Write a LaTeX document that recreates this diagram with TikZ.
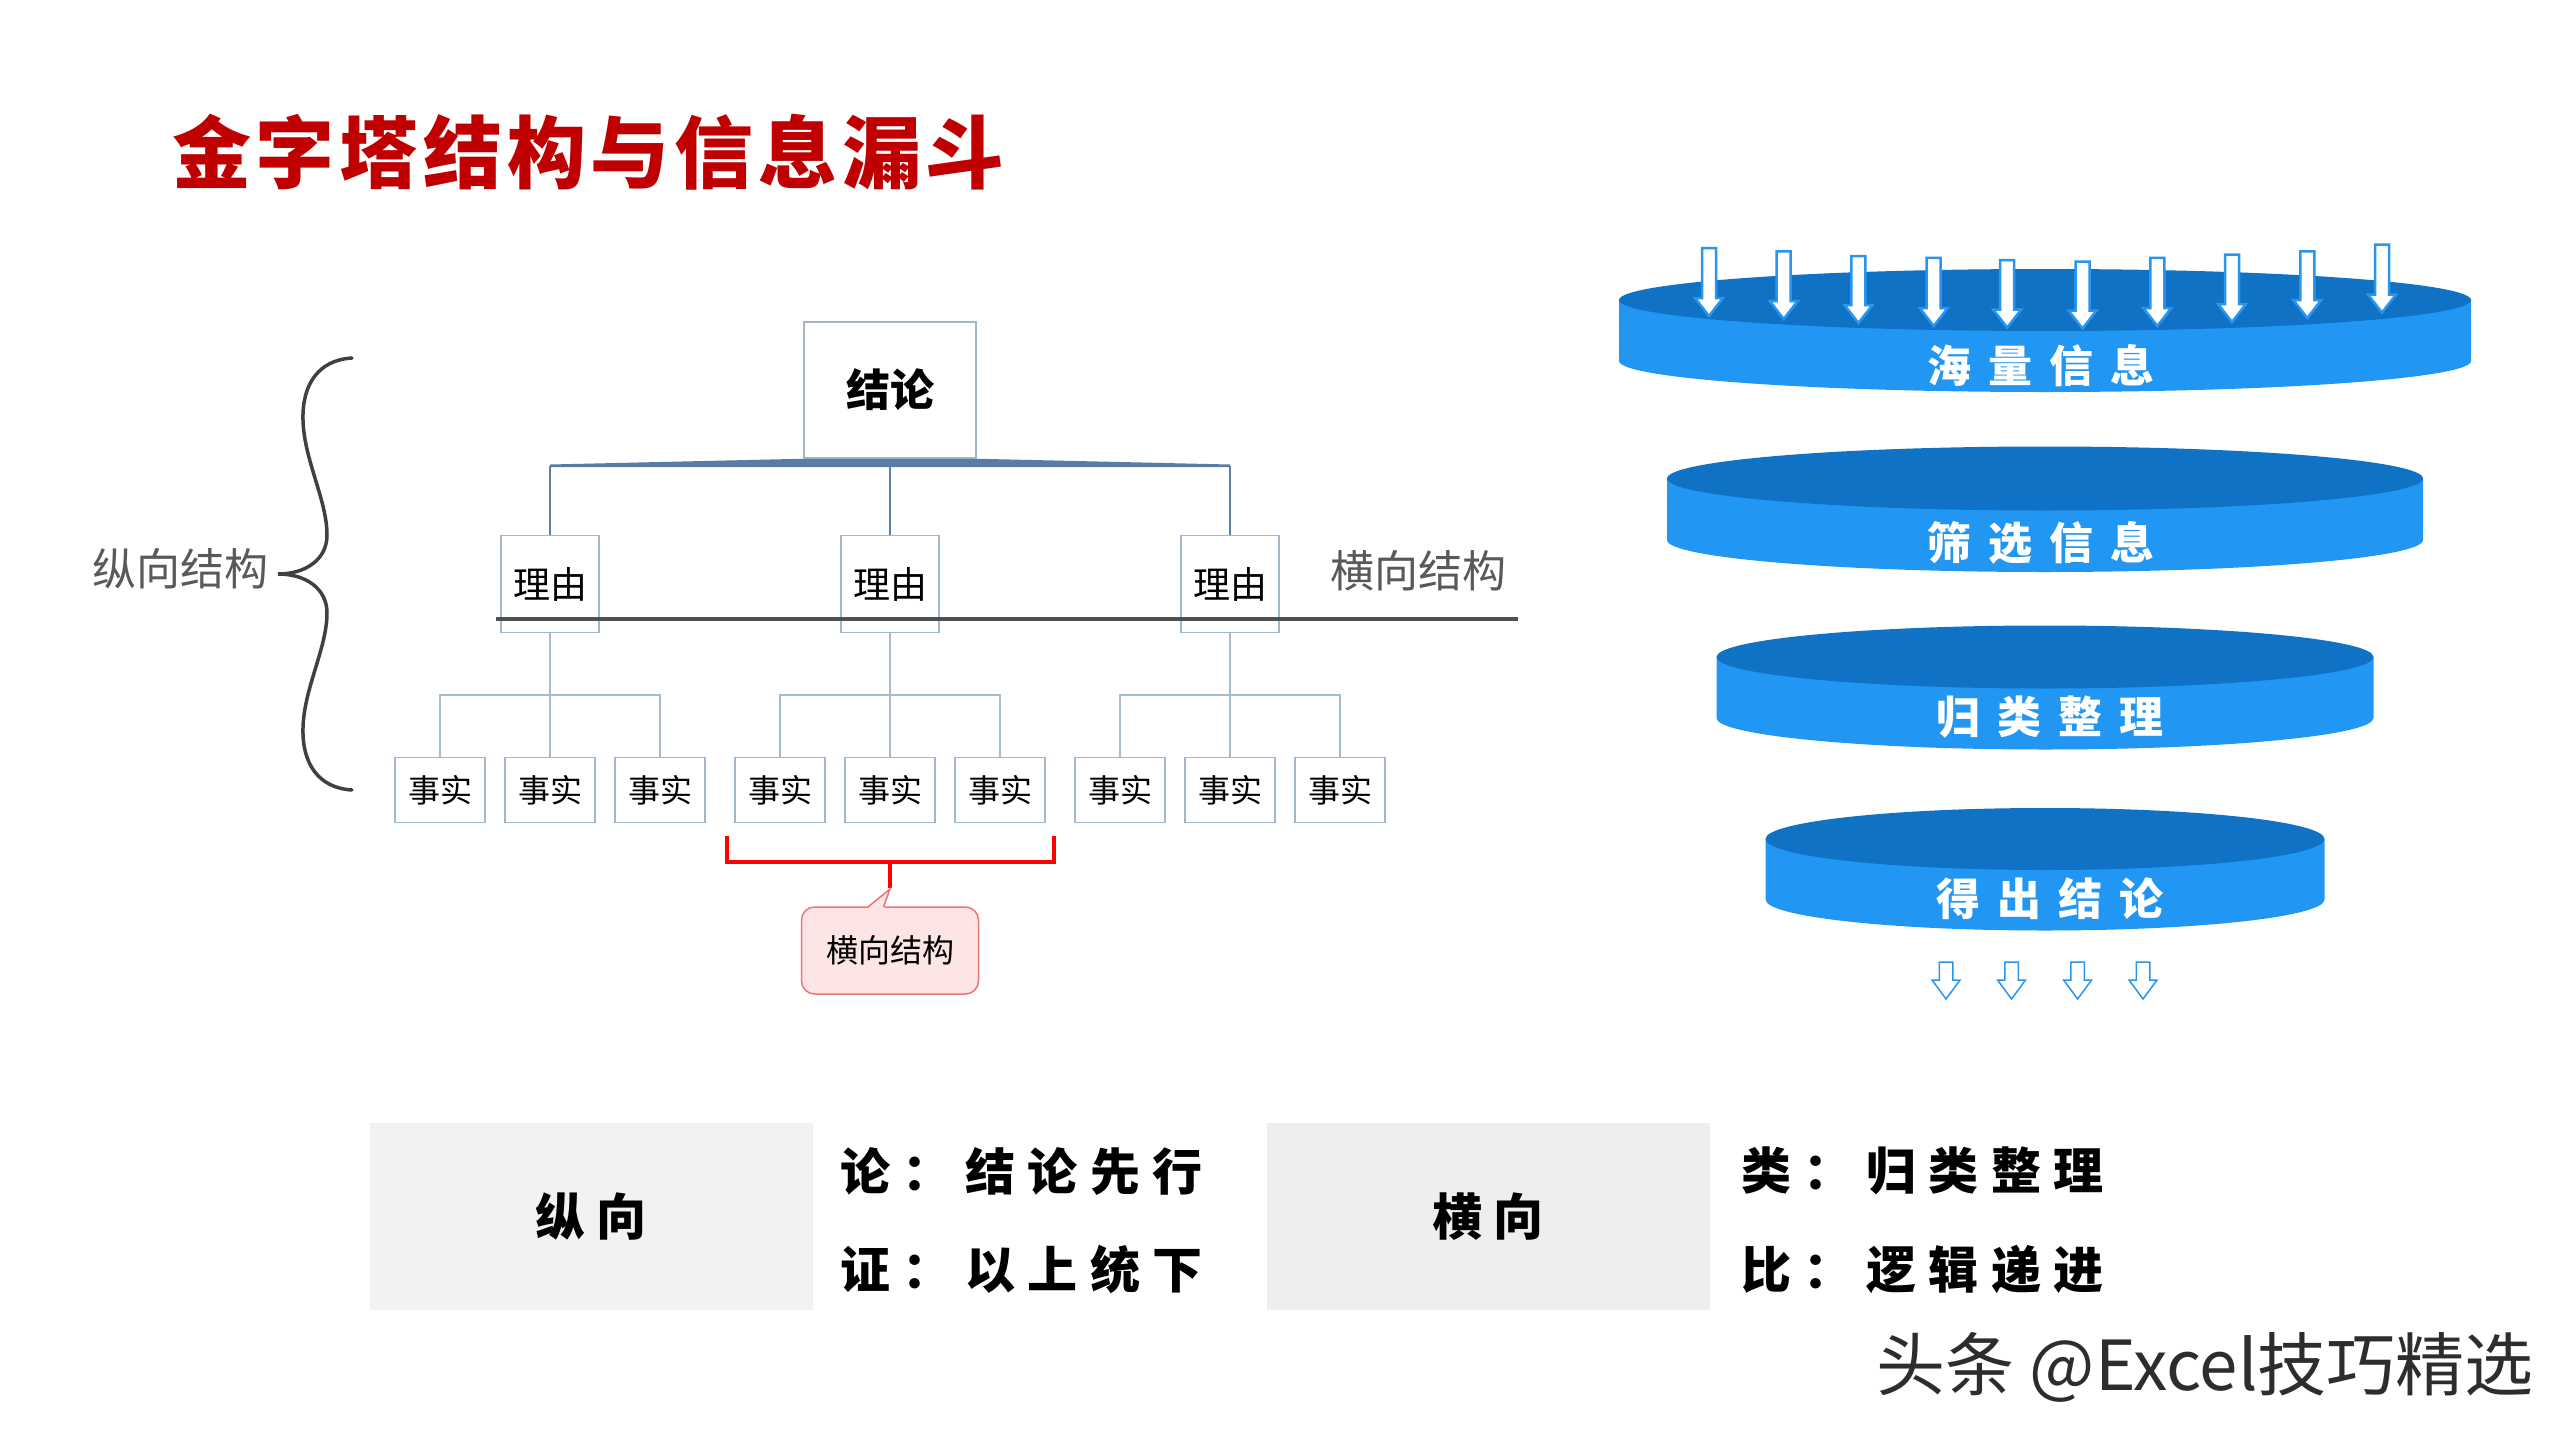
\documentclass[tikz,border=0pt]{standalone}
\usepackage{fontspec}
\setmainfont{Noto Sans CJK SC}
\usetikzlibrary{calc}
\definecolor{titlered}{RGB}{192,0,0}
\definecolor{boxline}{RGB}{160,182,206}
\definecolor{upline}{RGB}{95,128,166}
\definecolor{wedgeblue}{RGB}{88,124,163}
\definecolor{lowline}{RGB}{168,186,206}
\definecolor{darkline}{RGB}{80,80,80}
\definecolor{bracegray}{RGB}{64,64,64}
\definecolor{labelgray}{RGB}{89,89,89}
\definecolor{disctop}{RGB}{15,114,197}
\definecolor{discside}{RGB}{34,150,243}
\definecolor{arrowblue}{RGB}{40,150,240}
\definecolor{calloutfill}{RGB}{253,229,229}
\definecolor{calloutline}{RGB}{240,115,115}
\definecolor{boxgrayA}{RGB}{242,242,242}
\definecolor{boxgrayB}{RGB}{240,237,237}
\definecolor{wmgray}{RGB}{45,45,45}
\newcommand\fs[1]{\fontsize{#1}{#1}\selectfont}
\newcommand\drawdisc[5]{%
  \fill[discside] ({#1-#3},#2) -- ({#1-#3},{#2+#5}) arc[start angle=180,end angle=0,x radius=#3,y radius=#4] -- ({#1+#3},#2) -- cycle;
  \fill[disctop] (#1,#2) ellipse[x radius=#3, y radius=#4];}
\newcommand\funnelarrow[7]{% x ytop ytip shafthalf headhalf headlen linewidth
  \filldraw[fill=white, draw=arrowblue, line width=#7pt, line join=miter]
   ({#1-#4},#2) -- ({#1+#4},#2) -- ({#1+#4},{#3-#6}) -- ({#1+#5},{#3-#6}) -- (#1,#3)
   -- ({#1-#5},{#3-#6}) -- ({#1-#4},{#3-#6}) -- cycle;}
\begin{document}
\begin{tikzpicture}[x=1pt,y=-1pt,
  treebox/.style={draw=boxline, line width=1.5pt, fill=white, inner sep=0pt},
  reasonbox/.style={treebox, minimum width=98pt, minimum height=97pt, font=\fs{37}},
  factbox/.style={treebox, minimum width=90pt, minimum height=65pt, font=\fs{32}},
  upconn/.style={draw=upline, line width=1.5pt},
  lowconn/.style={draw=lowline, line width=1.5pt},
  sidelabel/.style={text=labelgray, font=\fs{44}, inner sep=0pt},
  disclabel/.style={text=white, inner sep=0pt, font=\fs{44}\bfseries\addfontfeatures{LetterSpace=38}},
  tablebox/.style={minimum width=443pt, minimum height=187pt, inner sep=0pt, font=\fs{50}\bfseries\addfontfeatures{LetterSpace=22}},
  tabletext/.style={anchor=west, inner sep=0pt, font=\fs{50}\bfseries\addfontfeatures{LetterSpace=25}},
]
\useasboundingbox[fill=white] (0,0) rectangle (2560,1440);

% title
\node[anchor=west, inner sep=0pt, text=titlered, font=\fs{79}\bfseries\addfontfeatures{LetterSpace=6}] (title) at (172,152) {金字塔结构与信息漏斗};

% ---------- tree ----------
\node[treebox, minimum width=172pt, minimum height=136pt, font=\fs{44}\bfseries] (c) at (890,390) {结论};
\coordinate (hl) at (550,466);
\coordinate (hr) at (1230,466);
\fill[wedgeblue] (550,464.5) -- (c.south west) -- (c.south east) -- (1230,464.5) -- (1230,467.2) -- (550,467.2) -- cycle;

\node[reasonbox] (r1) at (550,584) {理由};
\node[reasonbox] (r2) at (890,584) {理由};
\node[reasonbox] (r3) at (1230,584) {理由};
\draw[upconn] (r1.north) -- (r1.north |- hl);
\draw[upconn] (r2.north) -- (r2.north |- hl);
\draw[upconn] (r3.north) -- (r3.north |- hr);

\foreach \i/\x in {1/440,2/550,3/660,4/780,5/890,6/1000,7/1120,8/1230,9/1340}
  \node[factbox] (f\i) at (\x,790) {事实};
\coordinate (b1) at (550,695);
\coordinate (b2) at (890,695);
\coordinate (b3) at (1230,695);
\draw[lowconn] (r1.south) -- (f2.north);
\draw[lowconn] (r2.south) -- (f5.north);
\draw[lowconn] (r3.south) -- (f8.north);
\draw[lowconn] (f1.north) -- (f1.north |- b1) -- (f3.north |- b1) -- (f3.north);
\draw[lowconn] (f4.north) -- (f4.north |- b2) -- (f6.north |- b2) -- (f6.north);
\draw[lowconn] (f7.north) -- (f7.north |- b3) -- (f9.north |- b3) -- (f9.north);

\coordinate (dl) at (496,619);
\coordinate (dr) at (1518,619);
\draw[darkline, line width=4pt] (dl) -- (dr);

\node[sidelabel] (hlab) at (1418,571) {横向结构};
\node[sidelabel] (vlab) at (180,569) {纵向结构};

% brace
\draw[bracegray, line width=3.5pt, line cap=round]
  (352,358) .. controls (318,360) and (302,385) .. (303,420)
  .. controls (304,460) and (327,500) .. (327,535)
  .. controls (327,560) and (305,574) .. (278,574)
  .. controls (305,574) and (327,588) .. (327,613)
  .. controls (327,648) and (304,688) .. (303,728)
  .. controls (302,763) and (318,788) .. (352,790);

% red bracket + callout
\coordinate (rbl) at (727,836);
\coordinate (rbr) at (1054,836);
\coordinate (rbm) at (890,862);
\coordinate (rbs) at (890,888);
\draw[red, line width=4pt] (rbl) -- (rbl |- rbm) -- (rbr |- rbm) -- (rbr);
\draw[red, line width=4pt] (rbm) -- (rbs);
\node[draw=calloutline, fill=calloutfill, line width=1.5pt, rounded corners=13pt,
      minimum width=177pt, minimum height=87pt, font=\fs{32}] (co) at (890,950.5) {横向结构};
\coordinate (ctip) at (890,889);
\fill[calloutfill] (867.5,909) -- (ctip) -- (884,909) -- cycle;
\draw[calloutline, line width=1.5pt] (868,907) -- (ctip) -- (883.5,907);

% ---------- funnel ----------
\drawdisc{2045}{300}{426}{31}{61}
\drawdisc{2045}{478.5}{378}{32}{61.5}
\drawdisc{2045}{657}{328.5}{31.5}{61}
\drawdisc{2045}{839}{279.5}{31}{60.5}

\foreach \x/\yt/\yp in {1709/248/316, 1783.7/251.4/319, 1858.4/256.2/323, 1933.7/257.8/326,
  2007.2/260/327.5, 2082.5/261.6/328.5, 2157.3/257.8/326, 2232/254.6/322, 2307.3/251.4/318, 2382/244.5/312.5}
  {\funnelarrow{\x}{\yt}{\yp}{7}{14}{18}{2.5}}

\node[disclabel] (d1) at (2041,366) {海量信息};
\node[disclabel] (d2) at (2041,543) {筛选信息};
\node[disclabel] (d3) at (2050,717) {归类整理};
\node[disclabel] (d4) at (2050,899) {得出结论};

\foreach \x in {1946,2011.5,2077.6,2143}
  {\funnelarrow{\x}{962}{999}{6.75}{14}{19}{1.5}}

% ---------- bottom table ----------
\node[tablebox, fill=boxgrayA] (tv) at (591,1216.5) {纵向};
\node[tablebox, fill=boxgrayB] (th) at (1488,1216.5) {横向};
\node[tabletext] (tv1) at (840,1171) {论：结论先行};
\node[tabletext] (tv2) at (840,1269) {证：以上统下};
\node[tabletext] (th1) at (1741,1171) {类：归类整理};
\node[tabletext] (th2) at (1741,1269) {比：逻辑递进};

% watermark
\node[text=wmgray, font=\fs{69}, inner sep=0pt] (wm) at (2205,1367) {头条 @Excel技巧精选};
\end{tikzpicture}
\end{document}
